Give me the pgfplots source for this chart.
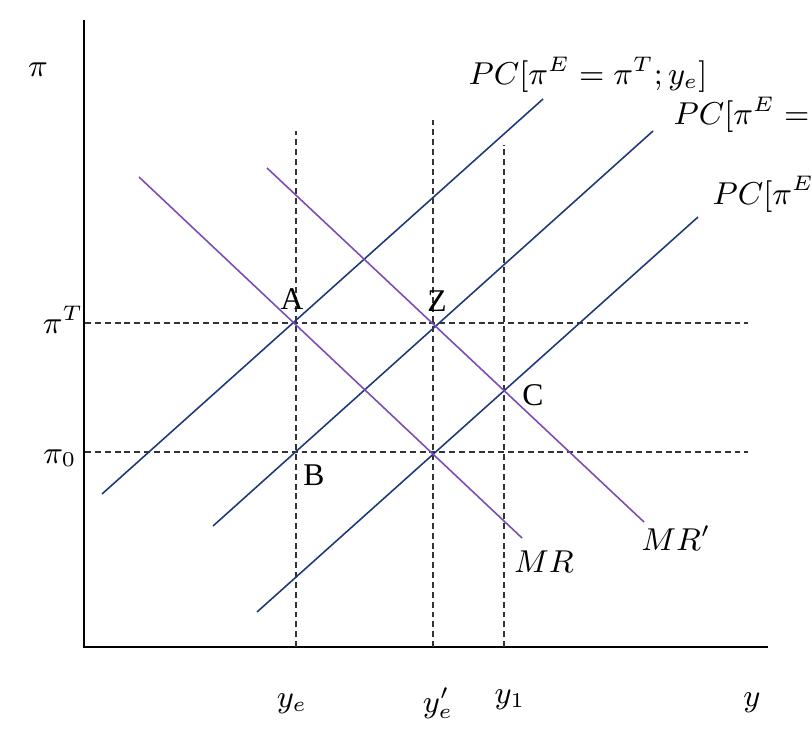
\documentclass[border=0pt]{standalone}
\usepackage{pgfplots}
\pgfplotsset{compat=1.18}
\usepackage{fontspec}
\setmainfont{Liberation Serif}

\definecolor{pcblue}{HTML}{203A78}
\definecolor{mrpurple}{HTML}{7A4CB4}

\newcommand{\lab}{\fontsize{9.2}{11}\selectfont}
\newcommand{\pt}{\fontsize{9}{11}\selectfont}

\begin{document}
\begin{tikzpicture}
\useasboundingbox (0,0) rectangle (8.12cm,7.38cm);
\begin{axis}[
    at={(0cm,0cm)}, anchor=south west,
    scale only axis,
    width=8.12cm, height=7.38cm,
    xmin=0, xmax=812, ymin=0, ymax=738,
    hide axis,
    clip=false,
]
% axes (pixel-like coordinates, y measured from bottom)
\addplot[black, line width=0.6pt] coordinates {(84,718) (84,91) (768,91)};

% dashed guide lines
\addplot[black!80, line width=0.45pt, dash pattern=on 1.7pt off 1.1pt] coordinates {(85,415) (748,415)};
\addplot[black!80, line width=0.45pt, dash pattern=on 1.7pt off 1.1pt] coordinates {(85,286) (748,286)};
\addplot[black!80, line width=0.45pt, dash pattern=on 1.7pt off 1.1pt] coordinates {(296,91) (296,607)};
\addplot[black!80, line width=0.45pt, dash pattern=on 1.7pt off 1.1pt] coordinates {(433,91) (433,618)};
\addplot[black!80, line width=0.45pt, dash pattern=on 1.7pt off 1.1pt] coordinates {(504,91) (504,593)};

% Phillips curves
\addplot[pcblue, line width=0.45pt] coordinates {(102,244) (543,639)};
\addplot[pcblue, line width=0.45pt] coordinates {(213,212) (653,607)};
\addplot[pcblue, line width=0.45pt] coordinates {(257,126) (698,521)};

% MR curves
\addplot[mrpurple, line width=0.45pt] coordinates {(139,561) (522,200)};
\addplot[mrpurple, line width=0.45pt] coordinates {(267,570) (644,216)};

% labels
\node at (38,668) {\lab$\pi$};
\node at (63,418) {\lab$\pi^T$};
\node at (60,280) {\lab$\pi_0$};

\node at (292,439) {\pt A};
\node at (314,263) {\pt B};
\node at (437,437) {\pt Z};
\node at (533,343) {\pt C};

\node at (544,176) {\lab$MR$};
\node at (676,200) {\lab$MR'$};

\node at (292,34) {\lab$y_e$};
\node at (438,35) {\lab$y_e'$};
\node at (510,38) {\lab$y_1$};
\node at (752,35) {\lab$y$};

\node[anchor=base west, inner sep=0pt] at (468,653) {\lab$PC[\pi^E=\pi^T;y_e]$};
\node[anchor=base west, inner sep=0pt] at (673,613) {\lab$PC[\pi^E=\pi^T;y_e']$};
\node[anchor=base west, inner sep=0pt] at (712,534) {\lab$PC[\pi^E=\pi_0;y_e']$};
\end{axis}
\end{tikzpicture}
\end{document}
